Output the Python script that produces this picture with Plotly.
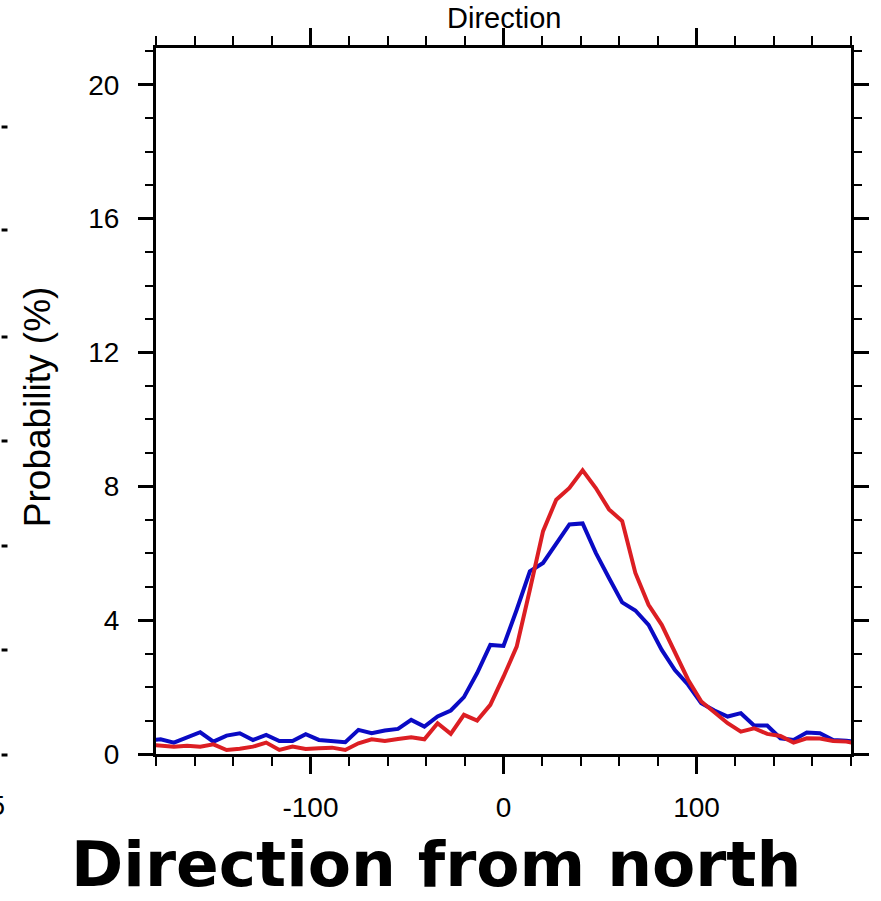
import plotly.graph_objects as go

# bin centres (degrees from north), step ~6.83 deg, clipped by the axis range
step = 6.83
direction = [round(k * step, 2) for k in range(-27, 28)]

blue_prob = [0.40, 0.44, 0.34, 0.50, 0.65, 0.37, 0.55, 0.62, 0.42, 0.57,
             0.39, 0.39, 0.59, 0.42, 0.39, 0.35, 0.72, 0.62, 0.70, 0.75,
             1.02, 0.82, 1.12, 1.30, 1.70, 2.42, 3.26, 3.23, 4.31, 5.46,
             5.71, 6.31, 6.86, 6.89, 6.01, 5.26, 4.53, 4.29, 3.86, 3.11,
             2.51, 2.07, 1.52, 1.30, 1.12, 1.22, 0.85, 0.85, 0.47, 0.42,
             0.64, 0.62, 0.42, 0.40, 0.35]

red_prob = [0.28, 0.26, 0.22, 0.25, 0.22, 0.29, 0.12, 0.16, 0.22, 0.34,
            0.12, 0.22, 0.15, 0.17, 0.19, 0.12, 0.32, 0.44, 0.39, 0.45,
            0.50, 0.44, 0.92, 0.60, 1.17, 1.00, 1.47, 2.31, 3.21, 4.91,
            6.66, 7.60, 7.95, 8.48, 7.95, 7.31, 6.96, 5.41, 4.46, 3.86,
            3.01, 2.22, 1.57, 1.25, 0.92, 0.67, 0.77, 0.60, 0.54, 0.34,
            0.47, 0.46, 0.39, 0.37, 0.30]

x_tickvals = [-100, 0, 100]
x_ticktext = ["-100", "0", "100"]
y_tickvals = [0, 4, 8, 12, 16, 20]
y_ticktext = ["0", "4", "8", "12", "16", "20"]

x_range = [-180, 180]
y_range = [0, 21.1]

W, H = 881, 901
L, R, T, B = 156, 23, 48, 147
pw = W - L - R
ph = H - T - B

def px_to_paper_x(px):
    return (px - L) / pw

def px_to_paper_y(py):
    return (H - B - py) / ph

fig = go.Figure()
fig.add_trace(go.Scatter(x=direction, y=blue_prob, mode="lines",
                         line=dict(color="#0a0ac4", width=4), showlegend=False))
fig.add_trace(go.Scatter(x=direction, y=red_prob, mode="lines",
                         line=dict(color="#dc1e23", width=4), showlegend=False))

tickfont = dict(family="Liberation Sans, Arial, sans-serif", size=28, color="black")

fig.update_xaxes(range=x_range, tickmode="array", tickvals=x_tickvals, ticktext=x_ticktext,
                 ticks="outside", ticklen=17, tickwidth=3, tickcolor="black",
                 minor=dict(tick0=0, dtick=20, ticks="outside", ticklen=9,
                            tickwidth=2, tickcolor="black"),
                 showline=True, linewidth=3, linecolor="black", mirror="ticks",
                 showgrid=False, zeroline=False, tickfont=tickfont,
                 ticklabelstandoff=9)
fig.update_yaxes(range=y_range, tickmode="array", tickvals=y_tickvals, ticktext=y_ticktext,
                 ticks="outside", ticklen=15, tickwidth=3, tickcolor="black",
                 minor=dict(tick0=0, dtick=1, ticks="outside", ticklen=8,
                            tickwidth=2, tickcolor="black"),
                 showline=True, linewidth=3, linecolor="black", mirror="ticks",
                 showgrid=False, zeroline=False, tickfont=tickfont,
                 ticklabelstandoff=13)

annotations = [
    dict(text="Direction", x=0.5, y=px_to_paper_y(18), xref="paper", yref="paper",
         xanchor="center", yanchor="middle", showarrow=False,
         font=dict(family="Liberation Sans, Arial, sans-serif", size=29, color="black")),
    dict(text="Probability (%)", x=px_to_paper_x(36), y=px_to_paper_y(407),
         xref="paper", yref="paper", xanchor="center", yanchor="middle",
         textangle=-90, showarrow=False,
         font=dict(family="Liberation Sans, Arial, sans-serif", size=37, color="black")),
    dict(text="<b>Direction from north</b>", x=px_to_paper_x(439), y=px_to_paper_y(864),
         xref="paper", yref="paper", xanchor="center", yanchor="middle",
         showarrow=False,
         font=dict(family="DejaVu Sans, sans-serif", size=63, color="black")),
    dict(text="5", x=px_to_paper_x(-4), y=px_to_paper_y(806), xref="paper", yref="paper",
         xanchor="center", yanchor="middle", showarrow=False,
         font=dict(family="Liberation Sans, Arial, sans-serif", size=27, color="black")),
]

shapes = []
for py in [127, 230, 337, 441, 546, 650, 755]:
    shapes.append(dict(type="line", xref="paper", yref="paper",
                       x0=px_to_paper_x(0), x1=px_to_paper_x(6),
                       y0=px_to_paper_y(py), y1=px_to_paper_y(py),
                       line=dict(color="black", width=3)))

fig.update_layout(width=W, height=H, margin=dict(l=L, r=R, t=T, b=B),
                  plot_bgcolor="white", paper_bgcolor="white",
                  annotations=annotations, shapes=shapes)

fig.write_html("out.html")
